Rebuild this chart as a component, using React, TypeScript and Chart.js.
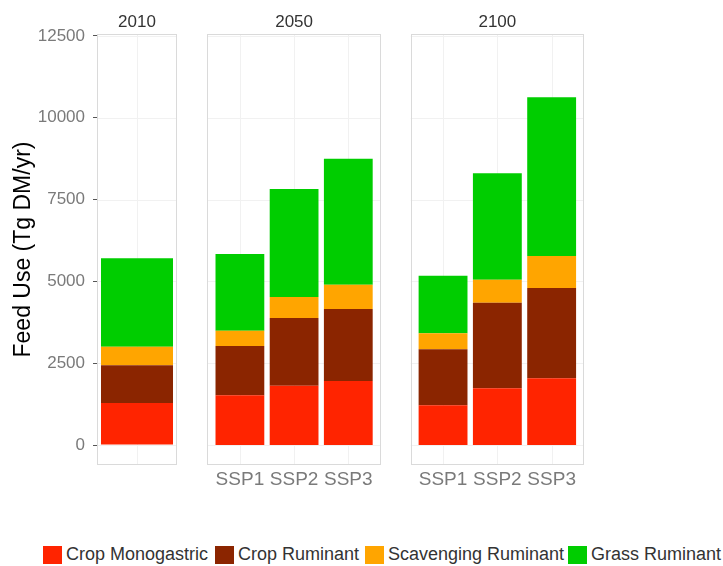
import React, { useEffect, useRef } from 'react';
import { Chart, registerables } from 'chart.js';

Chart.register(...registerables);

// ---------- data ----------
const FACETS = ['2010', '2050', '2100'];
const BAR_FACET = ['2010', '2050', '2050', '2050', '2100', '2100', '2100'];
const BAR_SCENARIO = ['', 'SSP1', 'SSP2', 'SSP3', 'SSP1', 'SSP2', 'SSP3'];

const CROP_MONOGASTRIC = [1284, 1519, 1813, 1956, 1212, 1732, 2038];
const CROP_RUMINANT = [1152, 1507, 2068, 2201, 1711, 2618, 2760];
const SCAVENGING_RUMINANT = [568, 468, 642, 743, 490, 703, 978];
const GRASS_RUMINANT = [2702, 2343, 3301, 3850, 1762, 3250, 4850];

const SERIES_NAMES = ['Crop Monogastric', 'Crop Ruminant', 'Scavenging Ruminant', 'Grass Ruminant'];
const SERIES_VALUES = [CROP_MONOGASTRIC, CROP_RUMINANT, SCAVENGING_RUMINANT, GRASS_RUMINANT];
const SERIES_COLORS = ['#FF2400', '#8B2500', '#FFA500', '#00CD00'];

const Y_TICKS = [0, 2500, 5000, 7500, 10000, 12500];
const Y_MIN = -611;
const Y_MAX = 12561;
const Y_TITLE = 'Feed Use (Tg DM/yr)';

const FONT = "'Liberation Sans', Arial, Helvetica, sans-serif";

// ---------- layout ----------
type PanelSpec = {
  facet: string;
  canvasLeft: number;
  canvasWidth: number;
  padLeft: number;
  padRight: number;
  ext: number;
  showY: boolean;
  showXLabels: boolean;
};

const CANVAS_H = 500;

const PANELS: PanelSpec[] = [
  { facet: FACETS[0], canvasLeft: 0, canvasWidth: 190, padLeft: 0, padRight: 13, ext: 0, showY: true, showXLabels: false },
  { facet: FACETS[1], canvasLeft: 195, canvasWidth: 195, padLeft: 17.8, padRight: 14.6, ext: 5.5, showY: false, showXLabels: true },
  { facet: FACETS[2], canvasLeft: 400, canvasWidth: 195, padLeft: 15.9, padRight: 16.2, ext: 5.2, showY: false, showXLabels: true },
];

const panelPlugin = {
  id: 'panel',
  beforeDatasetsDraw(chart: any, _args: any, opts: any) {
    const { ctx, chartArea: a, scales } = chart;
    const ext = opts.ext || 0;
    const L = a.left - ext;
    const R = a.right + ext;
    ctx.save();
    ctx.fillStyle = '#ffffff';
    ctx.fillRect(L, a.top, R - L, a.bottom - a.top);
    ctx.strokeStyle = '#f1f1f1';
    ctx.lineWidth = 1;
    for (const v of Y_TICKS) {
      const y = Math.round(scales.y.getPixelForValue(v)) + 0.5;
      ctx.beginPath();
      ctx.moveTo(L, y);
      ctx.lineTo(R, y);
      ctx.stroke();
    }
    for (let i = 0; i < scales.x.ticks.length; i++) {
      const x = Math.round(scales.x.getPixelForTick(i)) + 0.5;
      ctx.beginPath();
      ctx.moveTo(x, a.top);
      ctx.lineTo(x, a.bottom);
      ctx.stroke();
    }
    ctx.restore();
  },
  afterDatasetsDraw(chart: any, _args: any, opts: any) {
    const { ctx, chartArea: a } = chart;
    const ext = opts.ext || 0;
    const L = Math.round(a.left - ext);
    const R = Math.round(a.right + ext);
    ctx.save();
    ctx.strokeStyle = '#dadada';
    ctx.lineWidth = 1;
    ctx.strokeRect(L + 0.5, Math.round(a.top) + 0.5, R - L - 1, Math.round(a.bottom - a.top) - 1);
    ctx.fillStyle = '#333333';
    ctx.font = `17px ${FONT}`;
    ctx.textAlign = 'center';
    ctx.textBaseline = 'middle';
    ctx.fillText(opts.title, (a.left + a.right) / 2, 22);
    ctx.restore();
  },
};

function Panel({ spec }: { spec: PanelSpec }) {
  const ref = useRef<HTMLCanvasElement | null>(null);
  useEffect(() => {
    if (!ref.current) return;
    const idx = BAR_FACET.map((f, i) => (f === spec.facet ? i : -1)).filter((i) => i >= 0);
    const labels = idx.map((i) => BAR_SCENARIO[i]);
    const datasets = SERIES_NAMES.map((name, s) => ({
      label: name,
      data: idx.map((i) => SERIES_VALUES[s][i]),
      backgroundColor: SERIES_COLORS[s],
      borderWidth: 0,
      barPercentage: 0.9,
      categoryPercentage: 1.0,
    }));
    const chart = new Chart(ref.current, {
      type: 'bar',
      data: { labels, datasets },
      plugins: [panelPlugin],
      options: {
        animation: false,
        responsive: false,
        maintainAspectRatio: false,
        devicePixelRatio: 1,
        layout: { padding: { top: 34, bottom: 0, left: spec.padLeft, right: spec.padRight } },
        plugins: {
          legend: { display: false },
          tooltip: { enabled: false },
          panel: { ext: spec.ext, title: spec.facet },
        } as any,
        scales: {
          x: {
            stacked: true,
            offset: true,
            grid: { display: false, drawTicks: false },
            border: { display: false },
            ticks: {
              display: spec.showXLabels,
              padding: 3,
              color: '#7a7a7a',
              font: { family: FONT, size: 19 },
              maxRotation: 0,
              minRotation: 0,
              autoSkip: false,
            },
            afterFit: (s: any) => {
              s.height = 35;
            },
          },
          y: {
            stacked: true,
            display: spec.showY,
            min: Y_MIN,
            max: Y_MAX,
            afterBuildTicks: (s: any) => {
              s.ticks = Y_TICKS.map((v) => ({ value: v }));
            },
            afterFit: (s: any) => {
              s.width = spec.showY ? 97 : 0;
            },
            grid: {
              drawOnChartArea: false,
              drawTicks: true,
              tickLength: 4,
              tickColor: '#555555',
              tickWidth: 1,
            },
            border: { display: false },
            ticks: {
              padding: 8,
              color: '#7a7a7a',
              font: { family: FONT, size: 17 },
              callback: (v: any) => String(v),
            },
            title: {
              display: true,
              text: Y_TITLE,
              color: '#000000',
              font: { family: FONT, size: 23 },
              padding: { top: 10, bottom: 0 },
            },
          },
        },
      } as any,
    });
    return () => chart.destroy();
  }, [spec]);
  return (
    <canvas
      ref={ref}
      width={spec.canvasWidth}
      height={CANVAS_H}
      style={{ position: 'absolute', left: spec.canvasLeft, top: 0, width: spec.canvasWidth, height: CANVAS_H }}
    />
  );
}

const LEGEND_X = [43, 215, 365, 568];

export default function App() {
  return (
    <div
      style={{
        position: 'fixed',
        left: 0,
        top: 0,
        width: 723,
        height: 566,
        background: '#ffffff',
        overflow: 'hidden',
        fontFamily: FONT,
      }}
    >
      {PANELS.map((p) => (
        <Panel key={p.facet} spec={p} />
      ))}
      {SERIES_NAMES.map((name, i) => (
        <div
          key={name}
          style={{
            position: 'absolute',
            left: LEGEND_X[i],
            top: 545,
            height: 19,
            display: 'flex',
            alignItems: 'center',
            whiteSpace: 'nowrap',
          }}
        >
          <span style={{ display: 'inline-block', width: 19, height: 18, background: SERIES_COLORS[i], marginRight: 4 }} />
          <span style={{ fontSize: 18, color: '#333333', lineHeight: '19px' }}>{name}</span>
        </div>
      ))}
    </div>
  );
}
